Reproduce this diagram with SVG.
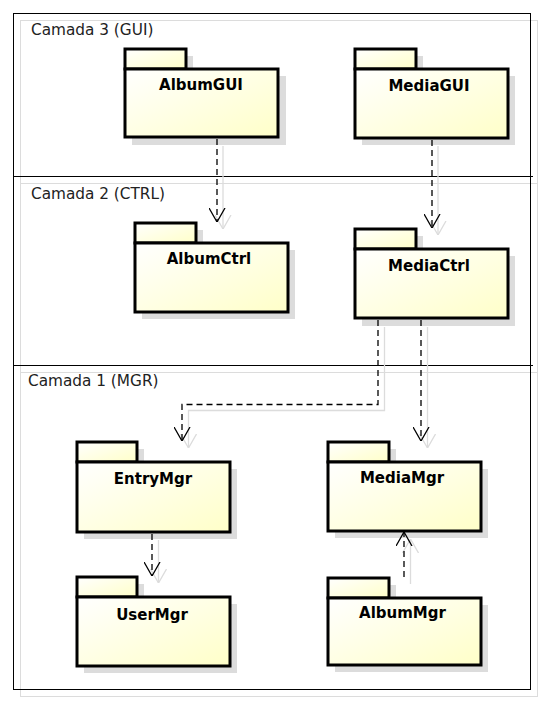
<svg xmlns="http://www.w3.org/2000/svg" width="545" height="702" viewBox="0 0 545 702">
<style>
.lbl{font-family:"DejaVu Sans","Liberation Sans",sans-serif;font-size:15.3px;fill:#222;}
.name{font-family:"DejaVu Sans","Liberation Sans",sans-serif;font-size:15px;font-weight:bold;fill:#000;text-anchor:middle;}
.shd{fill:#dcdcdc;stroke:none;}
.pkg{fill:url(#g);stroke:#000;stroke-width:3;}
.frame{fill:none;stroke:#000;stroke-width:1;}
.fshd{fill:none;stroke:#dcdcdc;stroke-width:1;}
.dep{fill:none;stroke:#000;stroke-width:1.3;stroke-dasharray:6,4;marker-end:url(#arr);}
.depshd{fill:none;stroke:#dcdcdc;stroke-width:1.3;marker-end:url(#arrs);}
</style>
<defs>
<linearGradient id="g" x1="0" y1="0" x2="1" y2="1">
<stop offset="0" stop-color="#ffffff"/>
<stop offset="1" stop-color="#ffffc8"/>
</linearGradient>
<marker id="arr" viewBox="0 0 14 17" refX="14" refY="8.5" markerWidth="14" markerHeight="17" markerUnits="userSpaceOnUse" orient="auto">
<path d="M0,0.5 L14,8.5 L0,16.5" fill="none" stroke="#000" stroke-width="1.3"/>
</marker>
<marker id="arrs" viewBox="0 0 14 17" refX="14" refY="8.5" markerWidth="14" markerHeight="17" markerUnits="userSpaceOnUse" orient="auto">
<path d="M0,0.5 L14,8.5 L0,16.5" fill="none" stroke="#dcdcdc" stroke-width="1.3"/>
</marker>
</defs>
<rect width="545" height="702" fill="#fff"/>
<g id="frame">
<rect class="fshd" x="20.5" y="20.5" width="517" height="676"/>
<line class="fshd" x1="20" y1="183.5" x2="538" y2="183.5"/>
<line class="fshd" x1="20" y1="372.5" x2="538" y2="372.5"/>
<rect class="frame" x="13.5" y="13.5" width="517" height="676"/>
<line class="frame" x1="13" y1="176.5" x2="533" y2="176.5"/>
<line class="frame" x1="13" y1="365.5" x2="533" y2="365.5"/>
<text class="lbl" x="31" y="35">Camada 3 (GUI)</text>
<text class="lbl" x="31" y="199">Camada 2 (CTRL)</text>
<text class="lbl" x="28" y="386">Camada 1 (MGR)</text>
</g>
<g id="AlbumGUI">
<rect class="shd" x="132" y="56" width="61" height="20"/>
<rect class="shd" x="132" y="76" width="154" height="69"/>
<rect class="pkg" x="125" y="49" width="61" height="20"/>
<rect class="pkg" x="125" y="69" width="153" height="68"/>
<text class="name" x="201" y="90">AlbumGUI</text>
</g>
<g id="MediaGUI">
<rect class="shd" x="362" y="56" width="61" height="20"/>
<rect class="shd" x="362" y="76" width="153" height="69"/>
<rect class="pkg" x="355" y="49" width="61" height="20"/>
<rect class="pkg" x="355" y="69" width="153" height="69"/>
<text class="name" x="429" y="91">MediaGUI</text>
</g>
<g id="AlbumCtrl">
<rect class="shd" x="142" y="230" width="61" height="20"/>
<rect class="shd" x="142" y="250" width="153" height="69"/>
<rect class="pkg" x="135" y="223" width="61" height="20"/>
<rect class="pkg" x="135" y="243" width="153" height="69"/>
<text class="name" x="209" y="264">AlbumCtrl</text>
</g>
<g id="MediaCtrl">
<rect class="shd" x="362" y="236" width="61" height="20"/>
<rect class="shd" x="362" y="256" width="153" height="70"/>
<rect class="pkg" x="355" y="229" width="61" height="20"/>
<rect class="pkg" x="355" y="249" width="153" height="69"/>
<text class="name" x="429" y="271">MediaCtrl</text>
</g>
<g id="EntryMgr">
<rect class="shd" x="84" y="449" width="60" height="20"/>
<rect class="shd" x="84" y="469" width="153" height="70"/>
<rect class="pkg" x="77" y="442" width="60" height="20"/>
<rect class="pkg" x="77" y="462" width="153" height="70"/>
<text class="name" x="153" y="484">EntryMgr</text>
</g>
<g id="MediaMgr">
<rect class="shd" x="335" y="449" width="61" height="20"/>
<rect class="shd" x="335" y="469" width="153" height="69"/>
<rect class="pkg" x="328" y="442" width="61" height="20"/>
<rect class="pkg" x="328" y="462" width="153" height="69"/>
<text class="name" x="402" y="483">MediaMgr</text>
</g>
<g id="UserMgr">
<rect class="shd" x="84" y="584" width="60" height="20"/>
<rect class="shd" x="84" y="604" width="153" height="69"/>
<rect class="pkg" x="77" y="577" width="60" height="20"/>
<rect class="pkg" x="77" y="597" width="153" height="69"/>
<text class="name" x="152" y="620">UserMgr</text>
</g>
<g id="AlbumMgr">
<rect class="shd" x="335" y="585" width="61" height="20"/>
<rect class="shd" x="335" y="605" width="153" height="67"/>
<rect class="pkg" x="328" y="578" width="61" height="20"/>
<rect class="pkg" x="328" y="598" width="153" height="67"/>
<text class="name" x="402.5" y="618">AlbumMgr</text>
</g>
<g id="connectors">
<path class="depshd" d="M223,146 V229"/>
<path class="depshd" d="M438,146 V235"/>
<path class="depshd" d="M427.5,327 V448"/>
<path class="depshd" d="M384.5,327 V410.5 H188.5 V448"/>
<path class="depshd" d="M158.5,540 V583"/>
<path class="depshd" d="M410.5,584 V539"/>
<path class="dep" d="M217,139 V222"/>
<path class="dep" d="M432,140 V228"/>
<path class="dep" d="M421,320 V441"/>
<path class="dep" d="M378,320 V404.5 H182 V441"/>
<path class="dep" d="M152,534 V576"/>
<path class="dep" d="M404,577 V532"/>
</g>
</svg>
